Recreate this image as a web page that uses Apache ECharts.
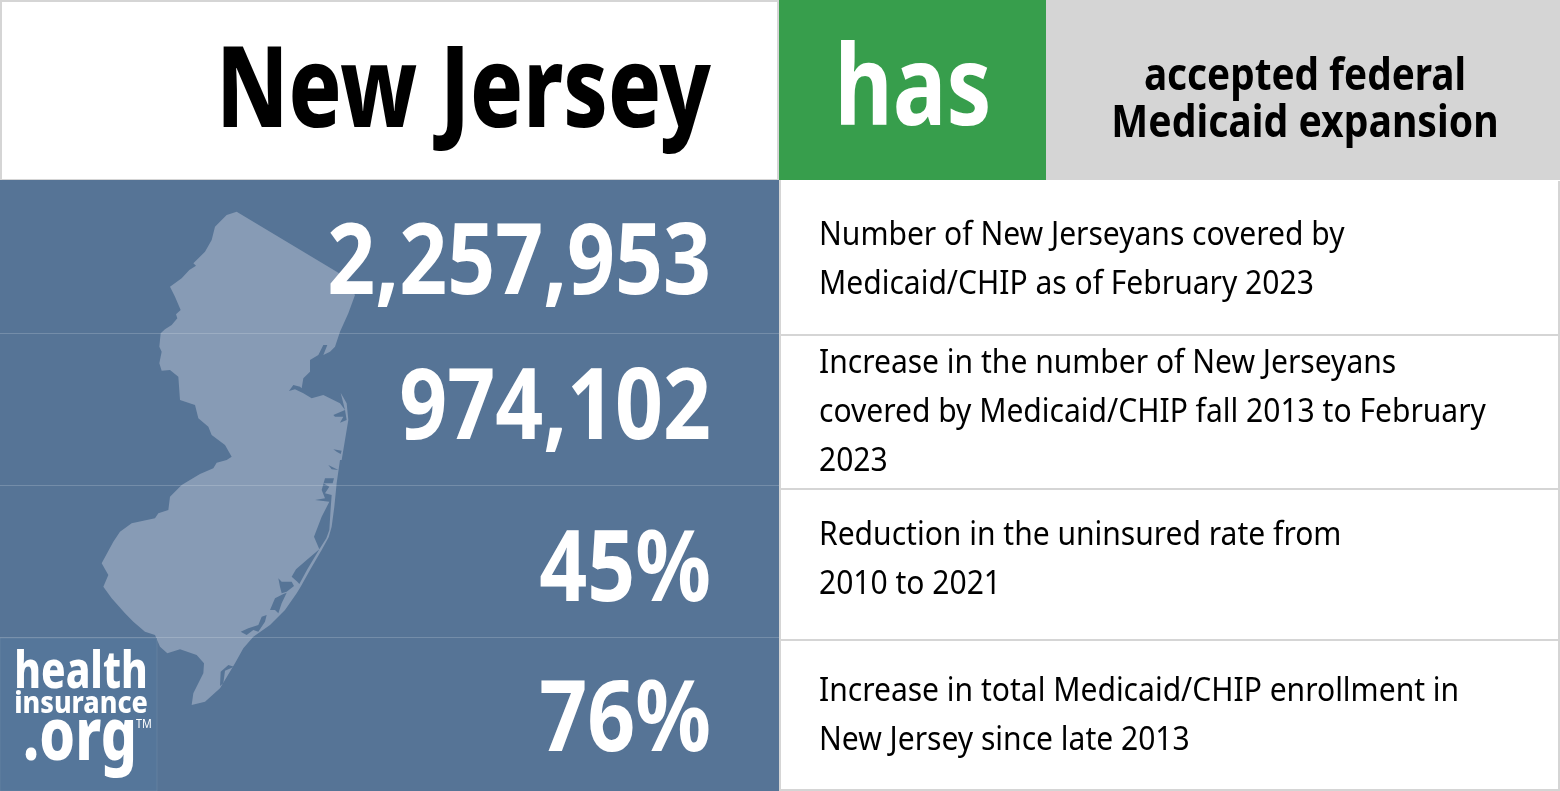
<!DOCTYPE html>
<html>
<head>
<meta charset="utf-8">
<title>New Jersey Medicaid expansion</title>
<script src="https://cdn.jsdelivr.net/npm/echarts@6/dist/echarts.min.js"></script>
<style>
    html, body { margin: 0; padding: 0; background: #fff; }
    #chart { width: 1560px; height: 791px; }
</style>
</head>
<body>
<div id="chart"></div>
<script>
// text
const stateName = 'New Jersey';
const statusWord = 'has';
const statusText = ['accepted federal', 'Medicaid expansion'];
const statValues = ['2,257,953', '974,102', '45%', '76%'];
const statNotes = [
    ['Number of New Jerseyans covered by', 'Medicaid/CHIP as of February 2023'],
    ['Increase in the number of New Jerseyans', 'covered by Medicaid/CHIP fall 2013 to February', '2023'],
    ['Reduction in the uninsured rate from', '2010 to 2021'],
    ['Increase in total Medicaid/CHIP enrollment in', 'New Jersey since late 2013']
];

const BLUE = '#567496';
const LAND = '#879bb5';
const GREY = '#d5d5d5';
const GREEN = '#379e4c';

// layout of the rows
const valueY = [266, 411, 573, 723];
const noteY = [[236, 285], [364, 413, 462], [536, 585], [692, 741]];
const leftRules = [333, 485, 637];
const rightRules = [334, 488, 639];

// state outline, [x, y] in zoom crops (3x)
const crop = (pts, ox, oy) => pts.map(p => [ox + p[0] / 3, oy + p[1] / 3]);

const outlineNorth = crop([
    [755, 780], [775, 660], [770, 610], [752, 578], [765, 630], [750, 610], [700, 585], [665, 595], [640, 580],
    [615, 568], [597, 573], [610, 555], [630, 560], [635, 565], [640, 535], [660, 515], [660, 480], [685, 465],
    [700, 435], [712, 435], [700, 465], [720, 455], [735, 440], [750, 395], [775, 340], [795, 285], [745, 218],
    [440, 35], [410, 45], [395, 60], [375, 80], [365, 120], [345, 155], [310, 190], [318, 197], [298, 210],
    [275, 235], [240, 260], [255, 290], [272, 330], [258, 343], [262, 355], [245, 375], [225, 388], [212, 400],
    [208, 440], [215, 455], [208, 490], [215, 512], [240, 510], [265, 530], [270, 600], [315, 615], [325, 655],
    [355, 680], [365, 705], [405, 735], [425, 770]
], 90, 200);
const outlineSouth = crop([
    [410, 30], [380, 38], [370, 55], [330, 72], [275, 105], [240, 140], [235, 180], [205, 190], [195, 205],
    [125, 220], [90, 245], [70, 275], [35, 340], [55, 375], [40, 410], [65, 445], [105, 490], [130, 515],
    [165, 545], [195, 555], [210, 590], [232, 610], [270, 598], [320, 615], [342, 640], [340, 670], [310, 730],
    [305, 765], [345, 755], [390, 715], [435, 640], [460, 595], [490, 560], [540, 525], [585, 480], [620, 430],
    [632, 410], [660, 360], [695, 300], [716, 262], [725, 230], [733, 170], [740, 100], [750, 30]
], 90, 450);
const outline = outlineNorth.concat(outlineSouth);

// bays and inlets cut back out of the land
const bays = [
    crop([[730, 645], [765, 630], [770, 660], [750, 668], [760, 650], [735, 650]], 90, 200),
    crop([[730, 748], [755, 752], [752, 762], [740, 755]], 90, 200),
    crop([[715, 45], [745, 60], [725, 58]], 90, 450),
    crop([[705, 85], [732, 85], [728, 100], [700, 100], [718, 110], [705, 130], [725, 135], [722, 175], [718, 240],
        [709, 265], [688, 298], [672, 260], [695, 200], [718, 155], [675, 150], [705, 145], [695, 120]], 90, 450),
    crop([[688, 298], [652, 358], [628, 402], [622, 395], [605, 380], [618, 358], [650, 330]], 90, 450),
    crop([[565, 385], [575, 395], [605, 395], [612, 408], [590, 425], [575, 430], [570, 410]], 90, 450),
    crop([[590, 428], [575, 460], [565, 490], [555, 480], [540, 480], [555, 445], [580, 432]], 90, 450),
    crop([[530, 495], [525, 515], [505, 545], [490, 540], [470, 555], [452, 545], [475, 535], [505, 525], [515, 500]], 90, 450),
    crop([[415, 645], [432, 650], [405, 662], [400, 700], [390, 708], [392, 665]], 90, 450)
];

const rect = (x, y, width, height, fill, extra) => Object.assign({
    type: 'rect',
    shape: { x, y, width, height },
    style: { fill }
}, extra);

// narrow faces are not installed, so the text is squeezed with scaleX
const label = (text, x, y, size, weight, fill, align, scaleX) => ({
    type: 'text',
    x,
    y,
    scaleX,
    style: {
        text,
        fill,
        font: weight + ' ' + size + 'px "Noto Sans"',
        textAlign: align,
        textVerticalAlign: 'middle'
    }
});

const elements = [];

// header
elements.push(rect(0, 0, 779, 181, GREY));
elements.push(rect(2, 2, 775, 177, '#ffffff'));
elements.push(rect(779, 0, 267, 180, GREEN));
elements.push(rect(1046, 0, 514, 180, GREY));
elements.push(label(stateName, 711, 95, 113, 800, '#000000', 'right', 0.776));
elements.push(label(statusWord, 913, 93, 112, 700, '#ffffff', 'center', 0.8));
elements.push(label(statusText[0], 1305, 77, 44, 700, '#000000', 'center', 0.88));
elements.push(label(statusText[1], 1305, 124, 44, 700, '#000000', 'center', 0.89));

// left panel
elements.push(rect(0, 180, 779, 611, BLUE));
elements.push(rect(779, 180, 2, 611, GREY));
elements.push({ type: 'polygon', shape: { points: outline }, style: { fill: LAND } });
bays.forEach(points => {
    elements.push({ type: 'polygon', shape: { points }, style: { fill: BLUE } });
});
leftRules.forEach(y => {
    elements.push(rect(0, y, 779, 1, 'rgba(255,255,255,0.18)'));
});

// right panel
elements.push(rect(781, 181, 779, 610, '#ffffff'));
rightRules.forEach(y => {
    elements.push(rect(781, y, 779, 2, GREY));
});
elements.push(rect(1558, 181, 2, 610, GREY));
elements.push(rect(781, 789, 779, 2, GREY));

// stats
statValues.forEach((value, i) => {
    elements.push(label(value, 711, valueY[i], 98, 700, '#ffffff', 'right', 0.856));
});
statNotes.forEach((lines, i) => {
    lines.forEach((line, j) => {
        elements.push(label(line, 819, noteY[i][j], 33, 400, '#000000', 'left', 0.91));
    });
});

// logo
elements.push(rect(0, 638, 157, 153, '#55769a', { style: { fill: '#55769a', stroke: 'rgba(255,255,255,0.08)', lineWidth: 1 } }));
elements.push(label('health', 81, 673, 52, 800, '#ffffff', 'center', 0.78));
elements.push(label('insurance', 81, 704, 31, 800, '#ffffff', 'center', 0.866));
elements.push(label('.org', 80, 739, 74, 800, '#ffffff', 'center', 0.77));
elements.push(label('TM', 144, 725, 12, 400, '#ffffff', 'center', 0.9));

const chart = echarts.init(document.getElementById('chart'), null, { renderer: 'canvas' });
chart.setOption({
    animation: false,
    backgroundColor: '#ffffff',
    graphic: { elements }
});
</script>
</body>
</html>
